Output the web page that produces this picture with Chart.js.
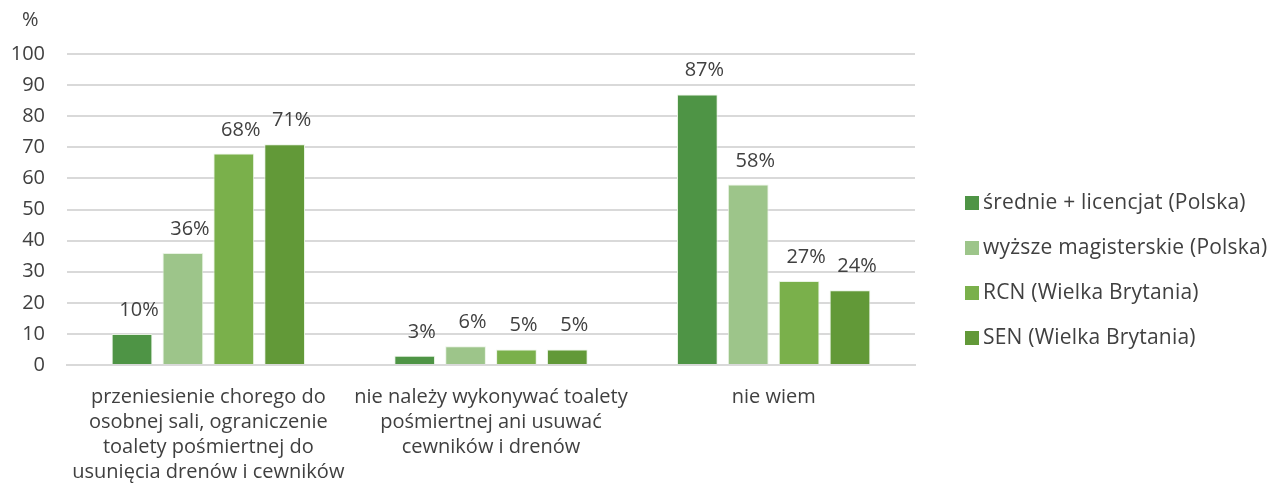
<!DOCTYPE html>
<html lang="pl">
<head>
<meta charset="utf-8">
<script src="https://cdn.jsdelivr.net/npm/chart.js@4"></script>
<style>
  html, body { margin: 0; padding: 0; background: #fff; }
  #wrap { width: 1278px; height: 484px; position: relative; }
</style>
</head>
<body>
<div id="wrap"><canvas id="ch"></canvas></div>
<script>
// Postępowanie ze zmarłym chorym zakaźnie — odpowiedzi wg grupy
const kategorie = [
    ['przeniesienie chorego do', 'osobnej sali, ograniczenie', 'toalety pośmiertnej do', 'usunięcia drenów i cewników'],
    ['nie należy wykonywać toalety', 'pośmiertnej ani usuwać', 'cewników i drenów'],
    'nie wiem'
];
const grupy = ['średnie + licencjat (Polska)', 'wyższe magisterskie (Polska)', 'RCN (Wielka Brytania)', 'SEN (Wielka Brytania)'];
const sredniePL = [10, 3, 87];
const magisterPL = [36, 6, 58];
const rcnUK = [68, 5, 27];
const senUK = [71, 5, 24];
const yTicks = [0, 10, 20, 30, 40, 50, 60, 70, 80, 90, 100];

const KOLORY = ['#4e9445', '#9dc58a', '#7ab04b', '#629938'];
const TEXT = '#404040';
const FONT = "'Open Sans', 'Noto Sans', sans-serif";

// etykiety wartości nad słupkami
const valueLabels = {
    id: 'valueLabels',
    afterDatasetsDraw(chart) {
        const ctx = chart.ctx;
        ctx.save();
        ctx.font = `20px ${FONT}`;
        ctx.fillStyle = TEXT;
        ctx.textAlign = 'center';
        ctx.textBaseline = 'alphabetic';
        chart.data.datasets.forEach((ds, i) => {
            chart.getDatasetMeta(i).data.forEach((bar, j) => {
                ctx.fillText(ds.data[j] + '%', bar.x + 7, bar.y - 18);
            });
        });
        ctx.restore();
    }
};

// jednostka osi Y i legenda po prawej
const extras = {
    id: 'extras',
    afterDraw(chart) {
        const ctx = chart.ctx;
        const area = chart.chartArea;
        ctx.save();
        ctx.font = `20px ${FONT}`;
        ctx.fillStyle = TEXT;
        ctx.textAlign = 'left';
        ctx.textBaseline = 'middle';
        ctx.fillText('%', 22, 20);

        const x0 = area.right + 50;
        const yMid = (area.top + area.bottom) / 2 + 61;
        const step = 45;
        ctx.font = `21px ${FONT}`;
        ctx.letterSpacing = '0.2px';
        grupy.forEach((g, i) => {
            const y = yMid + (i - 1.5) * step;
            ctx.fillStyle = KOLORY[i];
            ctx.fillRect(x0, y - 7, 14, 14);
            ctx.fillStyle = TEXT;
            ctx.fillText(g, x0 + 18, y);
        });
        ctx.restore();
    }
};

const serie = [sredniePL, magisterPL, rcnUK, senUK];

new Chart(document.getElementById('ch'), {
    type: 'bar',
    data: {
        labels: kategorie,
        datasets: serie.map((d, i) => ({
            label: grupy[i],
            data: d,
            backgroundColor: KOLORY[i],
            borderColor: 'rgba(230, 242, 224, .9)',
            borderWidth: 1,
            barPercentage: 0.8,
            categoryPercentage: 0.72
        }))
    },
    options: {
        responsive: true,
        maintainAspectRatio: false,
        animation: false,
        layout: { padding: { top: 54, right: 363, left: 0, bottom: 0 } },
        plugins: {
            legend: { display: false },
            tooltip: { enabled: false }
        },
        scales: {
            x: {
                afterFit: axis => { axis.height = 119; },
                grid: { display: false },
                border: { display: true, color: '#d9d9d9', width: 2 },
                ticks: {
                    color: TEXT,
                    font: { family: FONT, size: 20, lineHeight: 1.25 },
                    maxRotation: 0,
                    padding: 12
                }
            },
            y: {
                min: 0,
                max: 100,
                afterBuildTicks: axis => { axis.ticks = yTicks.map(v => ({ value: v })); },
                afterFit: axis => { axis.width = 67; },
                grid: { color: '#d9d9d9', lineWidth: 2, drawTicks: false },
                border: { display: false },
                ticks: { color: TEXT, font: { family: FONT, size: 20 }, padding: 22 }
            }
        }
    },
    plugins: [valueLabels, extras]
});
</script>
</body>
</html>
